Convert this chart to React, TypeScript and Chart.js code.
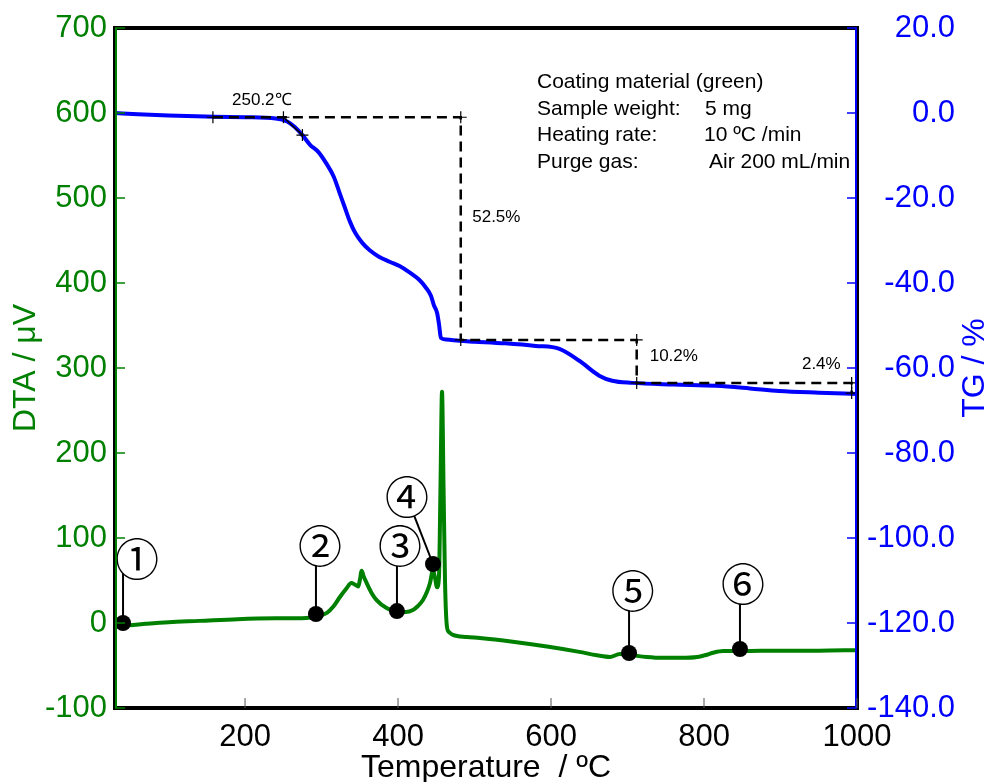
import React, { useEffect, useRef } from 'react';
import { Chart, registerables } from 'chart.js';

Chart.register(...registerables);

// ---------- data ----------
const dtaTemps = [30, 45, 70, 100, 140, 190, 240, 280, 294, 307, 316, 324, 332, 339, 344, 348, 350, 352.5, 355, 359, 365, 372, 385, 400, 410, 419.5, 426, 432.6, 438, 441.8, 445.7, 448, 451, 453.5, 455.5, 457.5, 459.5, 461.4, 464, 467, 471.8, 490, 507, 550, 597, 637, 660, 677, 690, 703, 725, 746, 770, 791, 805, 812, 825, 850, 900, 950, 1000];
const dtaValues = [-4, -3, -1, 1, 2.5, 4.5, 5.5, 6, 8, 12, 20, 30.6, 40, 47, 45, 43, 50, 61.5, 55, 47, 36, 27, 17.6, 13, 13, 15.3, 20, 27, 37, 47, 62, 55, 42, 54, 160, 272, 160, 50, -4.7, -11, -14, -16.5, -17.6, -22, -28, -34, -38, -40, -36.5, -37.6, -40, -41, -41, -40, -37, -35, -33, -33, -32.5, -32.5, -32];

const tgTemps = [30, 60, 100, 160, 200, 240, 255, 265, 275, 285, 296, 306, 316, 323, 330, 337, 344, 353, 363, 375, 389, 402, 415, 428, 436, 443, 447, 451, 453.5, 456, 463, 480, 500, 540, 580, 611, 637, 663, 680, 706, 760, 816, 860, 898, 950, 1000];
const tgValues = [0, -0.3, -0.6, -0.9, -1.0, -1.3, -2, -3.3, -5.2, -7.5, -9.2, -11.8, -15, -18.5, -22, -25.5, -28.2, -30.5, -32.3, -33.8, -35, -36, -37.5, -39.3, -41, -43, -45.3, -47, -49.6, -52.9, -53.3, -53.6, -53.8, -54.2, -54.8, -55.5, -58.3, -61.8, -63, -63.5, -63.9, -64.2, -64.8, -65.4, -65.8, -66.1];

// step (dashed) construction lines on TG
const stepTemps = [158, 482, 482, 712, 712, 993, 993];
const stepLevels = [-1.0, -1.0, -53.4, -53.4, -63.5, -63.5, -65.9];
// onset tangent
const onsetTemps = [250.2, 275];
const onsetLevels = [-1.0, -5.2];
// step annotations
const stepLabelTexts = ['250.2\u2103', '52.5%', '10.2%', '2.4%'];
const stepLabelTemps = [183, 497, 729, 928];
const stepLabelLevels = [3.0, -24.5, -57.2, -59.1];

// DTA markers
const markerNames = ['\u2460', '\u2461', '\u2462', '\u2463', '\u2464', '\u2465'];
const markerTemps = [40.5, 292.7, 398.6, 445.7, 702, 847];
const markerValues = [0, 10.6, 14, 69.4, -35.3, -30.6];
const markerLabelTemps = [58.8, 298, 402.5, 411.7, 707, 851];
const markerLabelValues = [75.3, 90.6, 90.6, 148, 37.6, 45.9];

// info block
const infoLabels = ['Coating material (green)', 'Sample weight:', 'Heating rate:', 'Purge gas:'];
const infoValues = ['', '5 mg', '10 \u00baC /min', 'Air 200 mL/min'];

const xTickValues = [200, 400, 600, 800, 1000];

// ---------- style ----------
const FONT = '"Liberation Sans", Arial, sans-serif';
const GREEN = '#008000';
const BLUE = '#0000ff';

const decorPlugin = {
  id: 'decor',
  beforeDatasetsDraw(chart: any) {
    const { ctx, scales } = chart;
    const xs = scales.x;
    const ys = scales.yDTA;
    ctx.save();
    ctx.strokeStyle = '#000';
    ctx.lineWidth = 2;
    const r = 20;
    markerTemps.forEach((t, i) => {
      const px = xs.getPixelForValue(t);
      const py = ys.getPixelForValue(markerValues[i]);
      const cx = xs.getPixelForValue(markerLabelTemps[i]);
      const cy = ys.getPixelForValue(markerLabelValues[i]);
      const dx = px - cx;
      let ex: number, ey: number;
      if (Math.abs(dx) < r) {
        ex = px;
        ey = cy + Math.sqrt(r * r - dx * dx);
      } else {
        const dy = py - cy;
        const d = Math.hypot(dx, dy);
        ex = cx + (dx / d) * r;
        ey = cy + (dy / d) * r;
      }
      ctx.beginPath();
      ctx.moveTo(px, py);
      ctx.lineTo(ex, ey);
      ctx.stroke();
    });
    ctx.restore();
  },
  afterDraw(chart: any) {
    const { ctx, scales, chartArea } = chart;
    const xs = scales.x;
    const yd = scales.yDTA;
    const yt = scales.yTG;
    const { left, right, top, bottom } = chartArea;
    ctx.save();

    // marker labels (circled digits)
    ctx.fillStyle = '#000';
    ctx.font = '44px "Noto Sans CJK JP", "Noto Sans CJK SC", sans-serif';
    ctx.textAlign = 'center';
    ctx.textBaseline = 'middle';
    markerNames.forEach((n, i) => {
      ctx.fillText(n, xs.getPixelForValue(markerLabelTemps[i]), yd.getPixelForValue(markerLabelValues[i]));
    });

    // step annotations
    ctx.font = '17px ' + FONT;
    ctx.textAlign = 'left';
    ctx.textBaseline = 'middle';
    stepLabelTexts.forEach((s, i) => {
      ctx.fillText(s, xs.getPixelForValue(stepLabelTemps[i]), yt.getPixelForValue(stepLabelLevels[i]));
    });

    // info block
    ctx.font = '21px ' + FONT;
    ctx.textBaseline = 'alphabetic';
    const infoX = [537, 705, 704, 709];
    infoLabels.forEach((s, i) => {
      const by = 88 + i * 26.7;
      ctx.fillText(s, 537, by);
      if (infoValues[i]) ctx.fillText(infoValues[i], infoX[i], by);
    });

    // frame
    ctx.strokeStyle = '#000';
    ctx.lineWidth = 4;
    ctx.strokeRect(left, top, right - left, bottom - top);
    ctx.lineWidth = 2;
    ctx.strokeStyle = GREEN;
    ctx.beginPath();
    ctx.moveTo(left + 1, top);
    ctx.lineTo(left + 1, bottom);
    ctx.stroke();
    ctx.strokeStyle = BLUE;
    ctx.beginPath();
    ctx.moveTo(right - 1, top);
    ctx.lineTo(right - 1, bottom);
    ctx.stroke();

    // inward ticks
    ctx.lineWidth = 1.5;
    ctx.strokeStyle = GREEN;
    yd.ticks.forEach((t: any) => {
      const p = yd.getPixelForValue(t.value);
      ctx.beginPath();
      ctx.moveTo(left, p);
      ctx.lineTo(left + 10, p);
      ctx.stroke();
    });
    ctx.strokeStyle = BLUE;
    yt.ticks.forEach((t: any) => {
      const p = yt.getPixelForValue(t.value);
      ctx.beginPath();
      ctx.moveTo(right - 10, p);
      ctx.lineTo(right, p);
      ctx.stroke();
    });
    ctx.strokeStyle = '#555';
    ctx.lineWidth = 1;
    xs.ticks.forEach((t: any) => {
      const p = xs.getPixelForValue(t.value);
      ctx.beginPath();
      ctx.moveTo(p, bottom - 10);
      ctx.lineTo(p, bottom);
      ctx.stroke();
    });

    // right axis title
    ctx.translate(975, (top + bottom) / 2);
    ctx.rotate(-Math.PI / 2);
    ctx.font = '32px ' + FONT;
    ctx.fillStyle = BLUE;
    ctx.textAlign = 'center';
    ctx.textBaseline = 'middle';
    ctx.fillText('TG / %', 0, 0);

    ctx.restore();
  },
};

export default function App() {
  const canvasRef = useRef<HTMLCanvasElement | null>(null);

  useEffect(() => {
    const canvas = canvasRef.current;
    if (!canvas) return;
    const pts = (xs: number[], ys: number[]) => xs.map((x, i) => ({ x, y: ys[i] }));
    const chart = new Chart(canvas, {
      type: 'line',
      data: {
        datasets: [
          {
            label: 'markers',
            data: pts(markerTemps, markerValues),
            yAxisID: 'yDTA',
            showLine: false,
            pointRadius: 8,
            pointBackgroundColor: '#000',
            pointBorderColor: '#000',
            pointBorderWidth: 0,
          },
          {
            label: 'onset',
            data: pts(onsetTemps, onsetLevels),
            yAxisID: 'yTG',
            borderColor: '#000',
            borderWidth: 1.5,
            pointStyle: 'cross',
            pointRadius: 6,
            pointBorderColor: '#000',
            pointBorderWidth: 1.2,
            tension: 0,
          },
          {
            label: 'steps',
            data: pts(stepTemps, stepLevels),
            yAxisID: 'yTG',
            borderColor: '#000',
            borderWidth: 2.5,
            borderDash: [10, 6],
            pointStyle: 'cross',
            pointRadius: 6,
            pointBorderColor: '#000',
            pointBorderWidth: 1.2,
            tension: 0,
          },
          {
            label: 'TG',
            data: pts(tgTemps, tgValues),
            yAxisID: 'yTG',
            borderColor: BLUE,
            borderWidth: 4,
            pointRadius: 0,
            cubicInterpolationMode: 'monotone',
          },
          {
            label: 'DTA',
            data: pts(dtaTemps, dtaValues),
            yAxisID: 'yDTA',
            borderColor: GREEN,
            borderWidth: 4,
            pointRadius: 0,
            cubicInterpolationMode: 'monotone',
          },
        ],
      },
      options: {
        animation: false,
        responsive: false,
        maintainAspectRatio: false,
        layout: { padding: { top: 28, right: 33, bottom: 0, left: 0 } },
        plugins: { legend: { display: false }, tooltip: { enabled: false } },
        scales: {
          x: {
            type: 'linear',
            min: 30,
            max: 1000,
            grid: { display: false, drawTicks: false },
            border: { display: false },
            ticks: {
              color: '#000',
              font: { family: FONT, size: 31 },
              padding: 11,
              maxRotation: 0,
              autoSkip: false,
              callback: (v: any) => String(v),
            },
            afterBuildTicks: (s: any) => {
              s.ticks = xTickValues.map((v) => ({ value: v }));
            },
            afterFit: (s: any) => {
              s.height = 74;
            },
            title: {
              display: true,
              text: 'Temperature  / \u00baC',
              color: '#000',
              font: { family: FONT, size: 32 },
              padding: { top: 0, bottom: -5 },
            },
          },
          yDTA: {
            type: 'linear',
            position: 'left',
            min: -100,
            max: 700,
            grid: { display: false, drawTicks: false },
            border: { display: false },
            ticks: { stepSize: 100, color: GREEN, font: { family: FONT, size: 31 }, padding: 8 },
            afterFit: (s: any) => {
              s.width = 115;
            },
            title: {
              display: true,
              text: 'DTA / \u03bcV',
              color: GREEN,
              font: { family: FONT, size: 32 },
              padding: { top: 7, bottom: 0 },
            },
          },
          yTG: {
            type: 'linear',
            position: 'right',
            min: -140,
            max: 20,
            grid: { display: false, drawTicks: false },
            border: { display: false },
            ticks: {
              stepSize: 20,
              color: BLUE,
              font: { family: FONT, size: 31 },
              crossAlign: 'far',
              callback: (v: any) => Number(v).toFixed(1),
            },
            afterFit: (s: any) => {
              s.width = 98;
            },
          },
        },
      } as any,
      plugins: [decorPlugin],
    });
    return () => chart.destroy();
  }, []);

  return (
    <div style={{ position: 'fixed', left: 0, top: 0, width: 988, height: 782, background: '#fff' }}>
      <canvas ref={canvasRef} width={988} height={782} style={{ display: 'block' }} />
    </div>
  );
}
